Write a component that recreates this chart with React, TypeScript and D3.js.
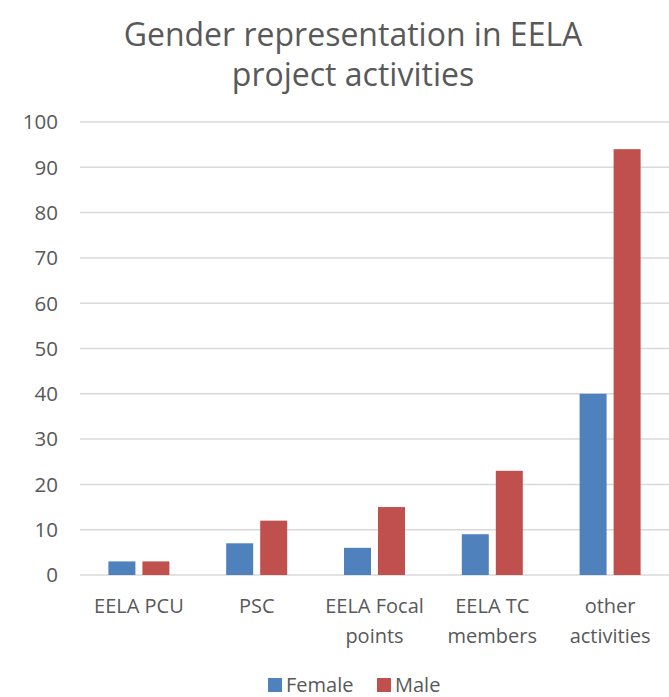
import React, { useRef, useEffect } from "react";
import * as d3 from "d3";

const categories = [
  ["EELA PCU"],
  ["PSC"],
  ["EELA Focal", "points"],
  ["EELA TC", "members"],
  ["other", "activities"],
];
const seriesNames = ["Female", "Male"];
const female = [3, 7, 6, 9, 40];
const male = [3, 12, 15, 23, 94];
const yTicks = [0, 10, 20, 30, 40, 50, 60, 70, 80, 90, 100];

const colors = ["#4F81BD", "#C0504D"];
const FONT = "'Open Sans', 'Noto Sans', sans-serif";

const App = () => {
  const svgRef = useRef<SVGSVGElement>(null);

  useEffect(() => {
    const width = 669;
    const height = 697;
    const svg = d3.select(svgRef.current);
    svg.selectAll("*").remove();

    const margin = { left: 80, right: 0 };

    const y = d3.scaleLinear().domain([0, 100]).range([575, 122]);
    const x = d3
      .scaleBand<number>()
      .domain(d3.range(categories.length))
      .range([margin.left, width - margin.right]);
    const x1 = d3
      .scaleBand<number>()
      .domain([0, 1])
      .range([0, x.bandwidth()])
      .paddingInner(0.206)
      .paddingOuter(0.835);

    svg.append("rect").attr("width", width).attr("height", height).attr("fill", "#fff");

    // title
    const title = svg
      .append("text")
      .attr("text-anchor", "middle")
      .style("font-family", FONT)
      .style("font-size", "32px")
      .style("fill", "#595959");
    title.append("tspan").attr("x", 353).attr("y", 46).text("Gender representation in EELA");
    title.append("tspan").attr("x", 353).attr("y", 86).text("project activities");

    // gridlines
    svg
      .append("g")
      .selectAll("line")
      .data(yTicks)
      .enter()
      .append("line")
      .attr("x1", margin.left)
      .attr("x2", width)
      .attr("y1", (d) => y(d))
      .attr("y2", (d) => y(d))
      .attr("stroke", "#D9D9D9")
      .attr("stroke-width", 1.5);

    // y labels
    svg
      .append("g")
      .selectAll("text")
      .data(yTicks)
      .enter()
      .append("text")
      .attr("x", 58)
      .attr("y", (d) => y(d))
      .attr("dy", "0.36em")
      .attr("text-anchor", "end")
      .style("font-family", FONT)
      .style("font-size", "20.5px")
      .style("fill", "#595959")
      .text((d) => d);

    // bars
    const series = [female, male];
    series.forEach((vals, si) => {
      svg
        .append("g")
        .selectAll("rect")
        .data(vals)
        .enter()
        .append("rect")
        .attr("x", (d, i) => (x(i) as number) + (x1(si) as number))
        .attr("y", (d) => y(d))
        .attr("width", x1.bandwidth())
        .attr("height", (d) => y(0) - y(d))
        .attr("fill", colors[si]);
    });

    // category labels
    const catG = svg.append("g");
    categories.forEach((lines, i) => {
      const cx = (x(i) as number) + x.bandwidth() / 2;
      const t = catG
        .append("text")
        .attr("text-anchor", "middle")
        .style("font-family", FONT)
        .style("font-size", "20px")
        .style("fill", "#595959");
      lines.forEach((ln, li) => {
        t.append("tspan").attr("x", cx).attr("y", 613 + li * 30).text(ln);
      });
    });

    // legend
    const legend = svg.append("g");
    const legendX = [268, 377];
    seriesNames.forEach((name, i) => {
      legend
        .append("rect")
        .attr("x", legendX[i])
        .attr("y", 678)
        .attr("width", 14)
        .attr("height", 14)
        .attr("fill", colors[i]);
      legend
        .append("text")
        .attr("x", legendX[i] + 18)
        .attr("y", 692)
        .style("font-family", FONT)
        .style("font-size", "20px")
        .style("fill", "#595959")
        .text(name);
    });
  }, []);

  return (
    <svg
      ref={svgRef}
      width={669}
      height={697}
      style={{ position: "absolute", left: 0, top: 0, display: "block" }}
    />
  );
};

export default App;
